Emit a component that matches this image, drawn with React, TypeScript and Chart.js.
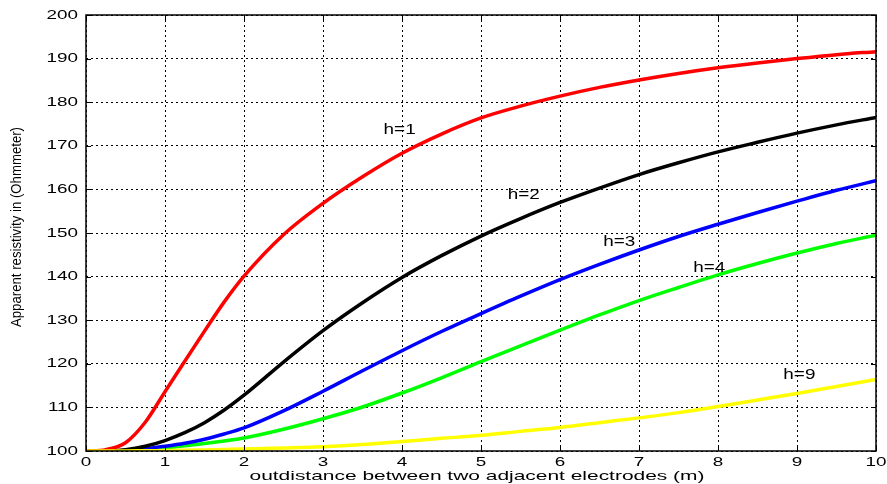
import React, { useEffect, useRef } from "react";
import { Chart, registerables } from "chart.js";
Chart.register(...registerables);

const xValues = [0, 0.25, 0.5, 0.75, 1, 1.25, 1.5, 1.75, 2, 2.5, 3, 3.5, 4, 4.5, 5, 5.5, 6, 6.5, 7, 7.5, 8, 8.5, 9, 9.5, 10];
const h1 = [100, 100.3, 101.9, 106.6, 113.6, 120.6, 127.5, 134.2, 140.1, 149.6, 156.8, 162.9, 168.3, 172.7, 176.4, 179.1, 181.4, 183.4, 185.1, 186.6, 187.9, 189, 190, 190.9, 191.6];
const h2 = [100, 100, 100.3, 101.1, 102.4, 104.2, 106.5, 109.4, 112.8, 120.4, 127.6, 134, 139.8, 144.8, 149.3, 153.3, 157, 160.3, 163.4, 166.1, 168.6, 170.8, 172.9, 174.8, 176.5];
const h3 = [100, 100, 100.1, 100.5, 101.1, 101.8, 102.7, 103.9, 105.3, 109.2, 113.7, 118.4, 123, 127.4, 131.5, 135.5, 139.3, 142.8, 146.1, 149.2, 152, 154.7, 157.3, 159.8, 162];
const h4 = [100, 100, 100.1, 100.3, 100.7, 101.2, 101.7, 102.3, 103, 105, 107.4, 110.1, 113.3, 116.8, 120.5, 124.1, 127.7, 131.2, 134.5, 137.5, 140.4, 143, 145.4, 147.6, 149.5];
const h9 = [100, 100, 100, 100.05, 100.1, 100.15, 100.25, 100.35, 100.45, 100.7, 101, 101.5, 102.2, 102.9, 103.6, 104.5, 105.4, 106.5, 107.6, 108.8, 110.2, 111.7, 113.2, 114.8, 116.4];

const seriesNames = ["h=1", "h=2", "h=3", "h=4", "h=9"];
const seriesColors = ["#ff0000", "#000000", "#0000ff", "#00ff00", "#ffff00"];
const labelX = [3.97, 5.54, 6.75, 7.89, 9.03];
const labelY = [173.6, 158.7, 147.9, 142, 117.4];

const xTicks = [0, 1, 2, 3, 4, 5, 6, 7, 8, 9, 10];
const yTicks = [100, 110, 120, 130, 140, 150, 160, 170, 180, 190, 200];
const yTitle = "Apparent resistivity in (Ohmmeter)";
const xTitle = "outdistance between two adjacent electrodes (m)";

const FONT = "'Liberation Sans', Arial, sans-serif";

function stretched(ctx: any, text: string, x: number, y: number, sx: number, align: "left" | "center" | "right") {
  const w = ctx.measureText(text).width * sx;
  let left = x;
  if (align === "center") left = x - w / 2;
  if (align === "right") left = x - w;
  ctx.save();
  ctx.translate(left, y);
  ctx.scale(sx, 1);
  ctx.textAlign = "left";
  ctx.fillText(text, 0, 0);
  ctx.restore();
}

export default function App() {
  const ref = useRef<HTMLCanvasElement | null>(null);
  useEffect(() => {
    if (!ref.current) return;
    const all = [h1, h2, h3, h4, h9];
    const overlay = {
      id: "overlay",
      afterDraw(chart: any) {
        const ctx = chart.ctx;
        const a = chart.chartArea;
        const xs = chart.scales.x;
        const ys = chart.scales.y;
        ctx.save();
        ctx.strokeStyle = "#000";
        ctx.lineWidth = 1.5;
        ctx.strokeRect(a.left, a.top, a.right - a.left, a.bottom - a.top);
        ctx.lineWidth = 1;
        ctx.beginPath();
        yTicks.forEach((v) => {
          const py = Math.round(ys.getPixelForValue(v)) + 0.5;
          ctx.moveTo(a.left, py); ctx.lineTo(a.left + 5, py);
          ctx.moveTo(a.right, py); ctx.lineTo(a.right - 5, py);
        });
        xTicks.forEach((v) => {
          const px = Math.round(xs.getPixelForValue(v)) + 0.5;
          ctx.moveTo(px, a.bottom); ctx.lineTo(px, a.bottom - 5);
          ctx.moveTo(px, a.top); ctx.lineTo(px, a.top + 5);
        });
        ctx.stroke();
        ctx.fillStyle = "#000";
        ctx.textBaseline = "middle";
        ctx.font = `13px ${FONT}`;
        yTicks.forEach((v) => {
          stretched(ctx, String(v), a.left - 8, ys.getPixelForValue(v), 1.45, "right");
        });
        xTicks.forEach((v) => {
          stretched(ctx, String(v), xs.getPixelForValue(v), a.bottom + 11, 1.45, "center");
        });
        ctx.font = `13px ${FONT}`;
        const tw = ctx.measureText(xTitle).width;
        stretched(ctx, xTitle, (a.left + a.right) / 2 - 4, a.bottom + 25, 455 / tw, "center");
        ctx.font = `14px ${FONT}`;
        seriesNames.forEach((n, i) => {
          stretched(ctx, n, xs.getPixelForValue(labelX[i]), ys.getPixelForValue(labelY[i]), 1.35, "center");
        });
        ctx.translate(17, 227);
        ctx.rotate(-Math.PI / 2);
        ctx.font = `14px ${FONT}`;
        ctx.textAlign = "center";
        ctx.fillText(yTitle, 0, 0, 200);
        ctx.restore();
      },
    };
    const chart = new Chart(ref.current, {
      type: "line",
      data: {
        datasets: all.map((d, i) => ({
          label: seriesNames[i],
          data: xValues.map((x, j) => ({ x, y: d[j] })),
          borderColor: seriesColors[i],
          backgroundColor: seriesColors[i],
          borderWidth: 3.5,
          pointRadius: 0,
          cubicInterpolationMode: "monotone" as const,
          order: i === 4 ? -1 : i,
        })),
      },
      options: {
        animation: false,
        responsive: false,
        layout: { padding: { left: 0, right: 11, top: 15, bottom: 0 } },
        plugins: { legend: { display: false }, tooltip: { enabled: false } },
        scales: {
          x: {
            type: "linear",
            min: 0,
            max: 10,
            afterBuildTicks: (s: any) => { s.ticks = xTicks.map((v) => ({ value: v })); },
            afterFit: (s: any) => { s.height = 33; },
            grid: { color: "#000", lineWidth: 1, drawTicks: false },
            border: { display: false, dash: [2, 3] },
            ticks: { display: false },
          },
          y: {
            type: "linear",
            min: 100,
            max: 200,
            afterBuildTicks: (s: any) => { s.ticks = yTicks.map((v) => ({ value: v })); },
            afterFit: (s: any) => { s.width = 86; },
            grid: { color: "#000", lineWidth: 1, drawTicks: false },
            border: { display: false, dash: [2, 3] },
            ticks: { display: false },
          },
        },
      },
      plugins: [overlay],
    });
    return () => chart.destroy();
  }, []);
  return (
    <div style={{ position: "absolute", left: 0, top: 0, width: 887, height: 484, background: "#fff" }}>
      <canvas ref={ref} width={887} height={484} />
    </div>
  );
}
